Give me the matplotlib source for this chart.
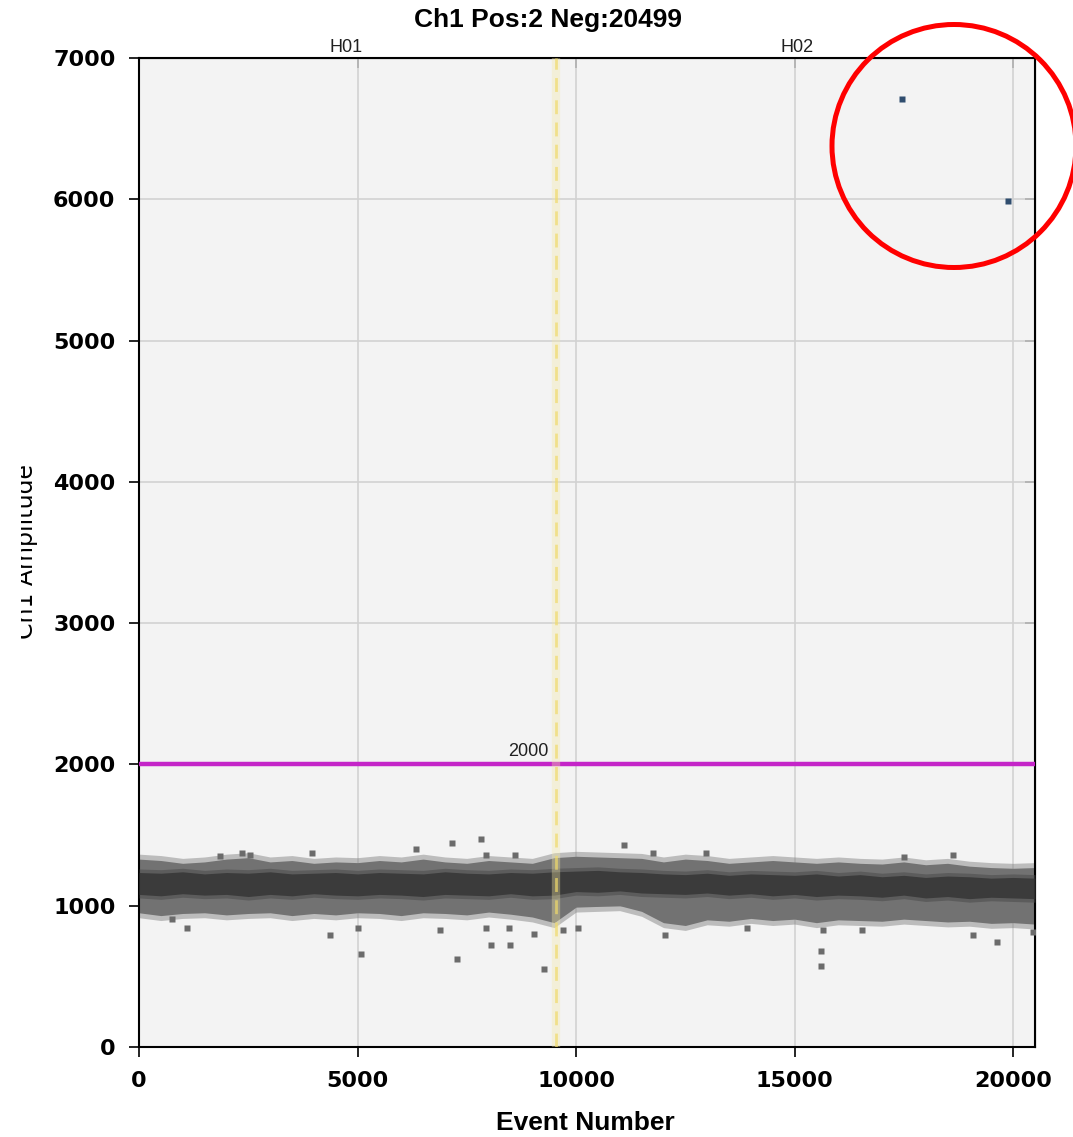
import matplotlib
matplotlib.use('Agg')
from matplotlib import pyplot as plt
from matplotlib.patches import Ellipse
from matplotlib.transforms import Bbox
import numpy as np

# band of negative droplets, read every 500 events
band_events = list(range(0, 21000, 500))
band_top = [1330, 1320, 1300, 1310, 1330, 1340, 1310, 1320, 1300, 1310,
            1305, 1320, 1310, 1330, 1310, 1300, 1320, 1310, 1300, 1340,
            1350, 1345, 1340, 1335, 1310, 1330, 1320, 1300, 1310, 1320,
            1310, 1300, 1310, 1300, 1295, 1310, 1290, 1300, 1280, 1270,
            1265, 1270]
band_bottom = [950, 930, 945, 950, 935, 945, 950, 930, 945, 935,
               950, 945, 930, 950, 945, 935, 955, 940, 920, 880,
               990, 995, 1000, 960, 880, 860, 900, 890, 910, 895,
               905, 880, 900, 895, 890, 905, 895, 885, 890, 875,
               880, 870]
core_top = [1235, 1230, 1240, 1225, 1235, 1230, 1240, 1225, 1230, 1235,
            1225, 1235, 1230, 1225, 1240, 1230, 1225, 1235, 1230, 1240,
            1245, 1250, 1240, 1235, 1225, 1220, 1230, 1215, 1225, 1220,
            1215, 1225, 1210, 1220, 1205, 1215, 1200, 1210, 1205, 1195,
            1200, 1195]
core_bottom = [1080, 1070, 1085, 1075, 1080, 1065, 1080, 1070, 1085, 1075,
               1070, 1080, 1075, 1065, 1080, 1075, 1070, 1085, 1070, 1075,
               1100, 1095, 1105, 1090, 1085, 1080, 1090, 1075, 1085, 1070,
               1080, 1065, 1075, 1070, 1060, 1075, 1055, 1065, 1050, 1060,
               1055, 1050]

# stray negative droplets outside the band
neg_x = [7163, 7826, 6339, 3959, 7940, 8604, 2357, 2540, 1854, 1098,
         755, 4371, 5011, 5080, 6888, 7277, 7940, 8055, 8490, 8467,
         9039, 9268, 9703, 10046, 11098, 12975, 17506, 18627, 11762, 12037,
         13913, 15606, 15606, 16545, 19634, 20458, 19085, 15652]
neg_y = [1444, 1472, 1401, 1373, 1359, 1359, 1373, 1359, 1352, 842,
         906, 793, 842, 658, 828, 623, 842, 722, 722, 842,
         800, 552, 828, 842, 1430, 1373, 1345, 1359, 1373, 793,
         842, 679, 573, 828, 743, 814, 793, 828]

# positive droplets
pos_x = [17460, 19886]
pos_y = [6709, 5987]

threshold = 2000
well_split = 9530
total_events = 20501

fig = plt.figure(figsize=(10.73, 11.37), dpi=100)
ax = fig.add_axes([139/1073, 90/1137, 896/1073, 989/1137])
ax.set_facecolor('#f3f3f3')

ax.set_xlim(0, total_events)
ax.set_ylim(0, 7000)
ax.set_xticks([0, 5000, 10000, 15000, 20000])
ax.set_yticks(range(0, 8000, 1000))
ax.grid(True, color='#d2d2d2', lw=1.2, zorder=0)
ax.set_axisbelow(True)

#negative band (soft fringe, dense body, dark core)
top_a = np.array(band_top)
bot_a = np.array(band_bottom)
ax.fill_between(band_events, bot_a - 35, top_a + 35, color='#7a7a7a',
                alpha=0.45, lw=0, zorder=2)
ax.fill_between(band_events, bot_a, top_a, color='#727272', lw=0, zorder=2)
ax.fill_between(band_events, np.array(core_bottom) - 25, np.array(core_top) + 25,
                color='#4a4a4a', alpha=0.55, lw=0, zorder=3)
ax.fill_between(band_events, core_bottom, core_top,
                color='#303030', alpha=0.75, lw=0, zorder=3)
ax.plot(neg_x, neg_y, 's', ms=4.3, color='#6b6b6b', mec='none', zorder=3)

#positives
ax.plot(pos_x, pos_y, 's', ms=4.0, color='#2f4d6e', mec='none', zorder=4)

#threshold and well divider
ax.axhline(threshold, color='#c424c8', lw=3.2, zorder=5)
ax.text(8900, threshold + 30, str(threshold), ha='center', va='bottom',
        fontsize=13, family='Liberation Sans', color='#202020', zorder=6)
ax.axvline(well_split, color='#f5eaa8', lw=6, alpha=0.35, zorder=5)
ax.axvline(well_split, color='#f0da6a', lw=2, dashes=(5, 3), alpha=0.7, zorder=5)

#well names
ax.text(4737, 7000 + 45, 'H01', ha='center', va='baseline', fontsize=13,
        family='Liberation Sans', color='#202020')
ax.text(15057, 7000 + 45, 'H02', ha='center', va='baseline', fontsize=13,
        family='Liberation Sans', color='#202020')

#spines and ticks
for s in ax.spines.values():
    s.set_linewidth(1.5)
    s.set_color('black')
ax.tick_params(direction='out', length=7, width=1.2, pad=10, labelsize=16)
for lab in ax.get_xticklabels() + ax.get_yticklabels():
    lab.set_fontweight('bold')
    lab.set_family('DejaVu Sans')
top = ax.secondary_xaxis('top')
top.set_xticks([0, 5000, 10000, 15000, 20000])
top.tick_params(direction='in', length=7, width=1.2, labeltop=False)
right = ax.secondary_yaxis('right')
right.set_yticks(range(0, 8000, 1000))
right.tick_params(direction='in', length=7, width=1.2, labelright=False)

#titles
fig.text(548/1073, 1110/1137, 'Ch1 Pos:2 Neg:20499', ha='center', va='baseline',
         fontsize=19, fontweight='bold', family='Liberation Sans')
fig.text(585/1073, 7/1137, 'Event Number', ha='center', va='baseline',
         fontsize=19, fontweight='bold', family='Liberation Sans')
yl = fig.text(33/1073, 585.5/1137, 'Ch1 Amplitude', rotation=90, rotation_mode='anchor',
              ha='center', va='baseline', fontsize=17, family='DejaVu Sans')
yl.set_clip_box(Bbox([[21, 0], [1073, 1137]]))
yl.set_clip_on(True)

#annotation circle
circ = Ellipse((954/1073, 991/1137), 244/1073, 243/1137, transform=fig.transFigure,
               fill=False, edgecolor='#ff0000', lw=3.6, zorder=10)
fig.add_artist(circ)

plt.savefig('out.png', dpi=100)
